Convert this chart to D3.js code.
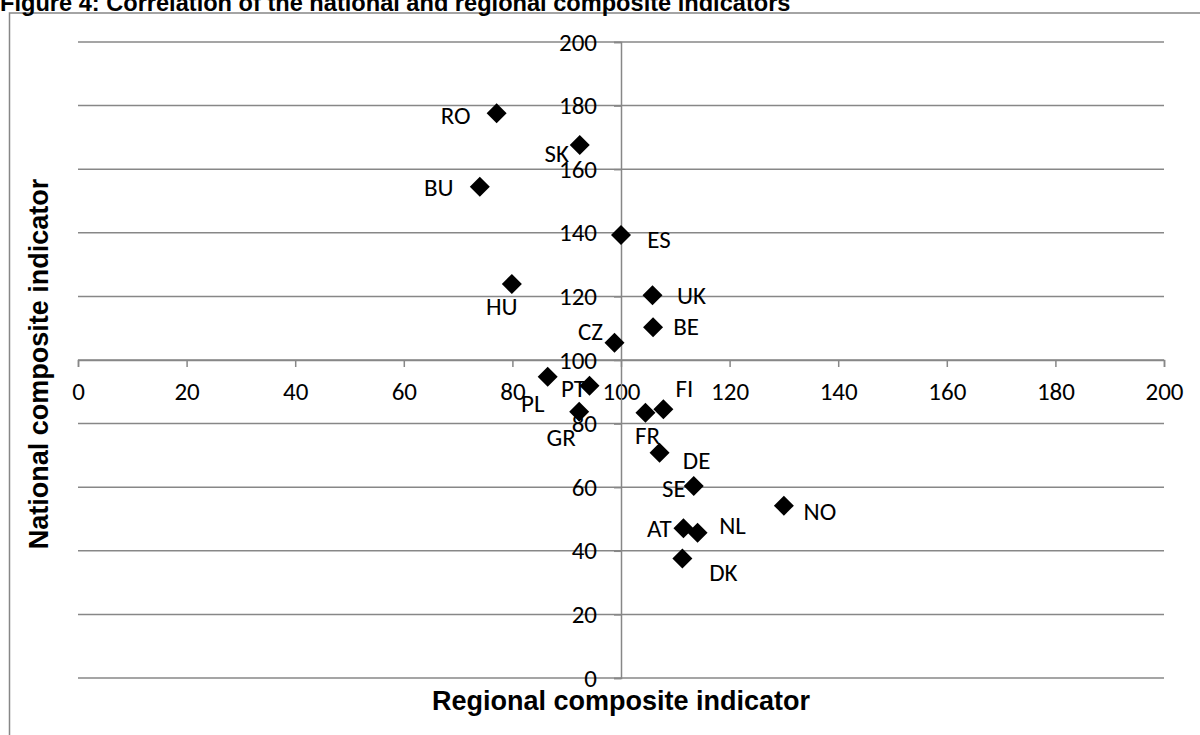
<!DOCTYPE html>
<html><head><meta charset="utf-8">
<script src="https://cdn.jsdelivr.net/npm/d3@7/dist/d3.min.js"></script>
<style>
html,body{margin:0;padding:0;background:#fff;overflow:hidden}
svg{display:block}
</style></head>
<body>
<svg id="c" width="1200" height="735"></svg>
<script>
const title = "Figure 4: Correlation of the national and regional composite indicators";
const xTitle = "Regional composite indicator";
const yTitle = "National composite indicator";
const countries = ["RO","SK","BU","ES","HU","UK","BE","CZ","PL","PT","GR","FR","FI","DE","SE","NO","AT","NL","DK"];
const regional = [77.1, 92.4, 74.0, 100.0, 79.9, 105.8, 105.9, 98.8, 86.5, 94.2, 92.3, 104.5, 107.8, 107.1, 113.4, 130.0, 111.5, 114.1, 111.3];
const national = [177.6, 167.6, 154.5, 139.3, 123.9, 120.4, 110.3, 105.4, 94.7, 91.9, 83.7, 83.4, 84.5, 70.8, 60.4, 54.2, 47.1, 45.7, 37.6];
const xTicks = [0,20,40,60,80,100,120,140,160,180,200];
const yTicks = [0,20,40,60,80,100,120,140,160,180,200];

// label placement offsets (styling)
const labelOffset = {
  RO:[-41,2], SK:[-23,8], BU:[-41,1], ES:[38,4], HU:[-10,22], UK:[39,0], BE:[33,-1],
  CZ:[-24,-12], PL:[-15,26], PT:[-16,2], GR:[-18,25], FR:[2,22], FI:[21,-21],
  DE:[37,7], SE:[-20,2], NO:[36,6], AT:[-24,0], NL:[35,-7], DK:[41,14]
};

const svg = d3.select("#c");
const grey = "#878787";
const lblFont = "Carlito, Lato, 'Open Sans', sans-serif";
const boldFont = "'Liberation Sans', Arial, sans-serif";
const lblSize = 25;

// outer frame
svg.append("rect").attr("x",9.5).attr("y",13).attr("width",1300).attr("height",800)
  .attr("fill","none").attr("stroke",grey).attr("stroke-width",1.5);

// title
svg.append("text").attr("x",0).attr("y",11).text(title)
  .attr("font-family",boldFont).attr("font-weight","bold").attr("font-size",23.6).attr("fill","#000");

const x = d3.scaleLinear().domain([0,200]).range([78,1164]);
const y = d3.scaleLinear().domain([0,200]).range([678,42]);

// horizontal gridlines
svg.append("g").selectAll("line").data(yTicks).join("line")
  .attr("x1",x(0)).attr("x2",x(200)).attr("y1",d=>y(d)).attr("y2",d=>y(d))
  .attr("stroke",grey).attr("stroke-width",1.5);

// x axis at y=100
const xAxis = d3.axisBottom(x).tickValues(xTicks).tickSize(7).tickPadding(15).tickFormat(d3.format("d"));
const gx = svg.append("g").attr("transform",`translate(0,${y(100)})`).call(xAxis);
gx.select(".domain").attr("stroke",grey).attr("stroke-width",1.5);
gx.selectAll(".tick line").attr("stroke",grey).attr("stroke-width",1.5);
gx.selectAll(".tick text").attr("font-family",lblFont).attr("font-size",lblSize).attr("fill","#000");

// y axis at x=100
const yAxis = d3.axisLeft(y).tickValues(yTicks).tickSize(7).tickPadding(17).tickFormat(d3.format("d"));
const gy = svg.append("g").attr("transform",`translate(${x(100)},0)`).call(yAxis);
gy.select(".domain").attr("stroke",grey).attr("stroke-width",1.5);
gy.selectAll(".tick line").attr("stroke",grey).attr("stroke-width",1.5);
gy.selectAll(".tick text").attr("font-family",lblFont).attr("font-size",lblSize).attr("fill","#000");

// points
const pts = countries.map((c,i)=>({c, rx:regional[i], ny:national[i]}));
const r = 10;
svg.append("g").selectAll("path").data(pts).join("path")
  .attr("transform",d=>`translate(${x(d.rx)},${y(d.ny)})`)
  .attr("d",`M0,${-r}L${r},0L0,${r}L${-r},0Z`).attr("fill","#000");

// labels
svg.append("g").selectAll("text").data(pts).join("text")
  .attr("x",d=>x(d.rx)+labelOffset[d.c][0]).attr("y",d=>y(d.ny)+labelOffset[d.c][1])
  .attr("dy","0.35em").attr("text-anchor","middle")
  .attr("font-family",lblFont).attr("font-size",lblSize).attr("fill","#000").text(d=>d.c);

// axis titles
svg.append("text").attr("x",x(100)).attr("y",710).attr("text-anchor","middle")
  .attr("font-family",boldFont).attr("font-weight","bold").attr("font-size",27).text(xTitle);
svg.append("text").attr("transform",`translate(48,364) rotate(-90)`).attr("text-anchor","middle")
  .attr("font-family",boldFont).attr("font-weight","bold").attr("font-size",27).text(yTitle);
</script>
</body></html>
